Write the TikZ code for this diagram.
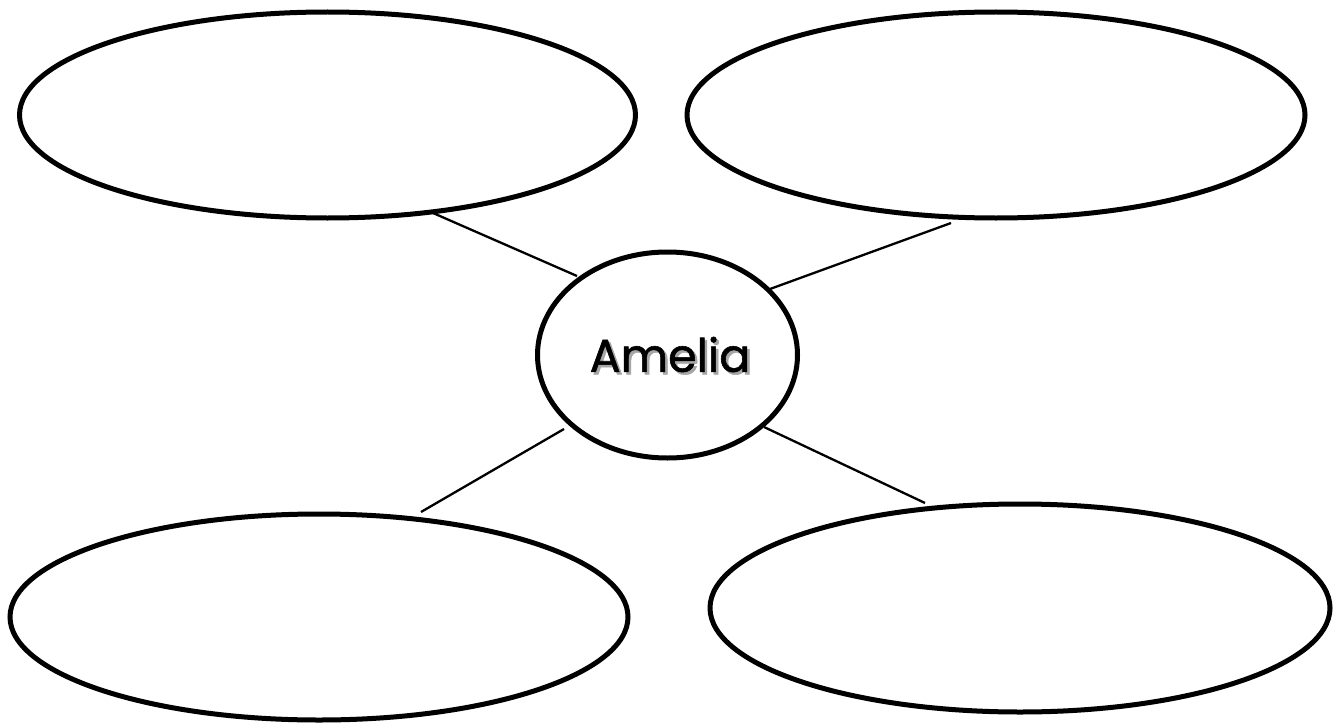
\documentclass[tikz,border=0pt]{standalone}
\usepackage{fontspec}
\newfontfamily\labelfont[FakeBold=1.2]{Poppins}
\begin{document}
\begin{tikzpicture}[x=1pt,y=-1pt,
  bubble/.style={draw=black,line width=5pt,fill=white},
  link/.style={draw=black,line width=2.3pt}]
\useasboundingbox (0,0) rectangle (1339,725);
\draw[bubble] (327.5,115) ellipse [x radius=308, y radius=103];
\draw[bubble] (996,115) ellipse [x radius=309, y radius=103];
\draw[bubble] (319,617) ellipse [x radius=309, y radius=103];
\draw[bubble] (1020,608) ellipse [x radius=310, y radius=104];
\draw[bubble] (667.5,355) ellipse [x radius=130, y radius=103];
\coordinate (a1) at (433,213); \coordinate (a2) at (577,276);
\coordinate (b1) at (951,223); \coordinate (b2) at (770,289);
\coordinate (c1) at (564,429); \coordinate (c2) at (421,512);
\coordinate (d1) at (764,427); \coordinate (d2) at (925,503);
\draw[link] (a1) -- (a2);
\draw[link] (b1) -- (b2);
\draw[link] (c1) -- (c2);
\draw[link] (d1) -- (d2);
\node[text=black!35] (shadow) at (672.5,357) {\labelfont\fontsize{46}{54}\selectfont Amelia};
\node (name) at (670,354.5) {\labelfont\fontsize{46}{54}\selectfont Amelia};
\end{tikzpicture}
\end{document}
